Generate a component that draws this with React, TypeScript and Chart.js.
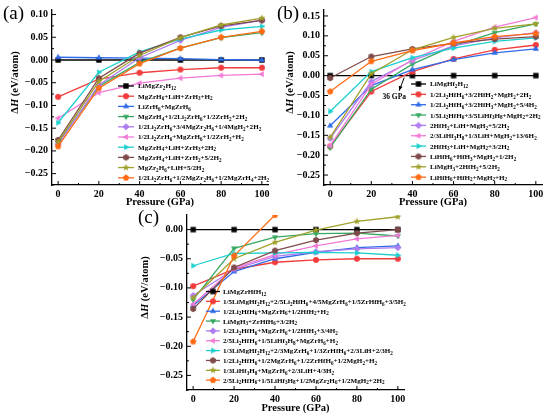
import React, { useEffect, useRef } from "react";
import Chart from "chart.js/auto";

const FONT = '"Liberation Serif", "Times New Roman", serif';

// pressure points (GPa)
const pressures = [0, 20, 40, 60, 80, 100];
const xTicks = [0, 20, 40, 60, 80, 100];
const xMinor = [10, 30, 50, 70, 90];

const yTicksA = [-0.25, -0.2, -0.15, -0.1, -0.05, 0, 0.05, 0.1];
const yTicksB = [-0.25, -0.2, -0.15, -0.1, -0.05, 0, 0.05, 0.1, 0.15];
const yTicksC = [-0.25, -0.2, -0.15, -0.1, -0.05, 0];

// (a) LiMgZr2H12
const labelsA = [
  "LiMgZr2H12",
  "MgZrH6+LiH+ZrH3+H2",
  "LiZrH6+MgZrH6",
  "MgZrH4+1/2Li2ZrH6+1/2ZrH2+2H2",
  "1/2Li2ZrH6+3/4MgZr2H6+1/4MgH2+2H2",
  "1/2Li2ZrH6+MgZrH6+1/2ZrH2+H2",
  "MgZrH4+LiH+ZrH3+2H2",
  "MgZrH4+LiH+ZrH2+5/2H2",
  "MgZr2H6+LiH+5/2H2",
  "1/2Li2ZrH6+1/2MgZr2H6+1/2MgZrH4+2H2",
];
const valuesA = [
  [0, 0, 0, 0, 0, 0],
  [-0.081, -0.042, -0.028, -0.021, -0.017, -0.017],
  [0.006, 0.005, 0.004, 0.003, 0.001, 0.0],
  [-0.183, -0.058, -0.005, 0.026, 0.049, 0.06],
  [-0.185, -0.055, 0.005, 0.043, 0.072, 0.088],
  [-0.128, -0.072, -0.051, -0.04, -0.034, -0.031],
  [-0.138, -0.027, 0.018, 0.046, 0.066, 0.074],
  [-0.176, -0.04, 0.015, 0.05, 0.075, 0.087],
  [-0.18, -0.047, 0.01, 0.049, 0.077, 0.092],
  [-0.19, -0.062, -0.008, 0.026, 0.05, 0.063],
];

// (b) LiMgHf2H12
const labelsB = [
  "LiMgHf2H12",
  "1/2Li2HfH6+3/2HfH2+MgH2+2H2",
  "1/2Li2HfH6+3/2HfH3+MgH2+5/4H2",
  "1/5Li2HfH6+3/5LiHf3H8+MgH2+2H2",
  "2HfH2+LiH+MgH2+5/2H2",
  "2/3LiHf3H8+1/3LiH+MgH2+13/6H2",
  "2HfH3+LiH+MgH2+3/2H2",
  "LiHfH6+HfH3+MgH2+1/2H2",
  "LiMgH3+2HfH2+5/2H2",
  "LiHfH6+HfH2+MgH2+H2",
];
const valuesB = [
  [0, 0, 0, 0, 0, 0],
  [-0.178, -0.04, 0.01, 0.042, 0.065, 0.077],
  [-0.126, -0.025, 0.015, 0.04, 0.057, 0.067],
  [-0.181, -0.034, 0.029, 0.075, 0.108, 0.13],
  [-0.158, -0.015, 0.038, 0.075, 0.095, 0.108],
  [-0.176, -0.022, 0.04, 0.086, 0.122, 0.146],
  [-0.09, 0.01, 0.045, 0.069, 0.086, 0.095],
  [-0.006, 0.048, 0.067, 0.081, 0.092, 0.098],
  [-0.155, 0.005, 0.065, 0.096, 0.119, 0.13],
  [-0.04, 0.036, 0.063, 0.082, 0.098, 0.106],
];

// (c) LiMgZrHfH12
const labelsC = [
  "LiMgZrHfH12",
  "1/5LiMgHf2H12+2/5Li2HfH6+4/5MgZrH6+1/5ZrHfH6+3/5H2",
  "1/2Li2HfH6+MgZrH6+1/2HfH2+H2",
  "LiMgH3+ZrHfH6+3/2H2",
  "1/2Li2HfH6+MgZrH6+1/2HfH3+3/4H2",
  "2/5Li2HfH6+1/5LiHf3H8+MgZrH6+H2",
  "1/3LiMgHf2H12+2/3MgZrH6+1/3ZrHfH6+2/3LiH+2/3H2",
  "1/2Li2HfH6+1/2MgZrH6+1/2ZrHfH6+1/2MgH2+H2",
  "1/3LiHf3H8+MgZrH6+2/3LiH+4/3H2",
  "2/5Li2HfH6+1/5LiHf3H8+1/2MgZr2H6+1/2MgH2+2H2",
];
const valuesC = [
  [0, 0, 0, 0, 0, 0],
  [-0.097, -0.068, -0.056, -0.052, -0.05, -0.05],
  [-0.13, -0.072, -0.05, -0.039, -0.031, -0.028],
  [-0.12, -0.032, -0.013, -0.007, -0.006, -0.011],
  [-0.113, -0.068, -0.046, -0.038, -0.033, -0.031],
  [-0.128, -0.066, -0.043, -0.028, -0.016, -0.01],
  [-0.062, -0.041, -0.04, -0.039, -0.04, -0.044],
  [-0.136, -0.065, -0.036, -0.018, -0.006, 0.0],
  [-0.117, -0.05, -0.022, -0.001, 0.014, 0.022],
  [-0.192, -0.045, 0.025, null, null, null],
];

const colors = [
  "#000000", "#f23b3b", "#2f6be8", "#36a862", "#ad7cf0",
  "#f27ad6", "#1ccfcf", "#7f4a4a", "#a0a02a", "#ff6a12",
];
const shapes = [
  "square", "circle", "up", "down", "diamond",
  "left", "right", "hexagon", "star", "pentagon",
];

function makeMarker(shape: string, color: string): HTMLCanvasElement {
  const s = 8;
  const c = document.createElement("canvas");
  c.width = s;
  c.height = s;
  const g = c.getContext("2d")!;
  g.fillStyle = color;
  g.translate(s / 2, s / 2);
  const poly = (n: number, r: number, rot: number) => {
    g.beginPath();
    for (let i = 0; i < n; i++) {
      const a = -Math.PI / 2 + rot + (i * 2 * Math.PI) / n;
      g.lineTo(r * Math.cos(a), r * Math.sin(a));
    }
    g.closePath();
    g.fill();
  };
  if (shape === "square") g.fillRect(-2.7, -2.7, 5.4, 5.4);
  else if (shape === "circle") {
    g.beginPath();
    g.arc(0, 0, 3, 0, Math.PI * 2);
    g.fill();
  } else if (shape === "up") poly(3, 3.6, 0);
  else if (shape === "down") poly(3, 3.6, Math.PI);
  else if (shape === "left") poly(3, 3.6, -Math.PI / 2);
  else if (shape === "right") poly(3, 3.6, Math.PI / 2);
  else if (shape === "diamond") poly(4, 3.6, 0);
  else if (shape === "hexagon") poly(6, 3.3, 0);
  else if (shape === "pentagon") poly(5, 3.4, 0);
  else if (shape === "star") {
    g.beginPath();
    for (let i = 0; i < 10; i++) {
      const a = -Math.PI / 2 + (i * Math.PI) / 5;
      const r = i % 2 ? 1.6 : 3.8;
      g.lineTo(r * Math.cos(a), r * Math.sin(a));
    }
    g.closePath();
    g.fill();
  }
  return c;
}

// split a formula into normal / subscript runs
function chemParts(text: string) {
  const parts: { t: string; sub: boolean }[] = [];
  let prevSub = false;
  for (let i = 0; i < text.length; i++) {
    const ch = text[i];
    const prev = text[i - 1] || "";
    const digit = /[0-9]/.test(ch);
    const sub = digit && (/[A-Za-z]/.test(prev) || (prevSub && /[0-9]/.test(prev)));
    const last = parts[parts.length - 1];
    if (last && last.sub === sub) last.t += ch;
    else parts.push({ t: ch, sub });
    prevSub = sub;
  }
  return parts;
}

function drawChem(ctx: CanvasRenderingContext2D, text: string, x: number, y: number, size: number) {
  let cx = x;
  const base = y + size * 0.35;
  for (const p of chemParts(text)) {
    ctx.font = p.sub ? `bold ${size * 0.72}px ${FONT}` : `bold ${size}px ${FONT}`;
    ctx.fillText(p.t, cx, p.sub ? base + size * 0.25 : base);
    cx += ctx.measureText(p.t).width;
  }
}

const fmt = (v: number) => {
  const s = Math.abs(v) < 1e-9 ? "0.00" : Math.abs(v).toFixed(2);
  return v < -1e-9 ? "\u2212" + s : s;
};

interface PanelProps {
  tag: string;
  labels: string[];
  values: (number | null)[][];
  yMin: number;
  yMax: number;
  yTicks: number[];
  box: { left: number; top: number; width: number; height: number };
  yw: number;
  pr: number;
  pt: number;
  xh: number;
  legend: { x0: number; x1: number; tx: number; y0: number; dy: number; size: number };
  tagPos: { x: number; y: number };
  note?: { x: number; y: number; text: string };
}

const Panel: React.FC<PanelProps> = (p) => {
  const canvasRef = useRef<HTMLCanvasElement | null>(null);

  useEffect(() => {
    if (!canvasRef.current) return;
    const markers = shapes.map((s, i) => makeMarker(s, colors[i]));

    const decor = {
      id: "decor",
      afterDraw(chart: Chart) {
        const ctx = chart.ctx;
        const { left, top, bottom } = chart.chartArea;
        const xs = chart.scales.x;
        const ys = chart.scales.y;
        ctx.save();
        ctx.strokeStyle = "#000";
        ctx.lineWidth = 1;
        // inward ticks
        ctx.beginPath();
        xTicks.forEach((v) => {
          const px = xs.getPixelForValue(v);
          ctx.moveTo(px, bottom);
          ctx.lineTo(px, bottom - 4);
        });
        xMinor.forEach((v) => {
          const px = xs.getPixelForValue(v);
          ctx.moveTo(px, bottom);
          ctx.lineTo(px, bottom - 2);
        });
        p.yTicks.forEach((v) => {
          const py = ys.getPixelForValue(v);
          ctx.moveTo(left, py);
          ctx.lineTo(left + 4, py);
          const m = v + 0.025;
          if (m < p.yMax) {
            const pm = ys.getPixelForValue(m);
            ctx.moveTo(left, pm);
            ctx.lineTo(left + 2, pm);
          }
        });
        const pl = ys.getPixelForValue(p.yTicks[0] - 0.025);
        ctx.moveTo(left, pl);
        ctx.lineTo(left + 2, pl);
        ctx.stroke();

        // legend inside the plot
        const lg = p.legend;
        p.labels.forEach((lab, i) => {
          const yy = lg.y0 + i * lg.dy;
          ctx.strokeStyle = colors[i];
          ctx.lineWidth = 1.3;
          ctx.beginPath();
          ctx.moveTo(lg.x0, yy);
          ctx.lineTo(lg.x1, yy);
          ctx.stroke();
          ctx.drawImage(markers[i], (lg.x0 + lg.x1) / 2 - 4, yy - 4);
          ctx.fillStyle = "#000";
          drawChem(ctx, lab, lg.tx, yy, lg.size);
        });

        // y axis title with italic H
        ctx.save();
        ctx.translate(15, (top + bottom) / 2 - 15);
        ctx.rotate(-Math.PI / 2);
        const segs: [string, string][] = [
          ["\u0394", `bold 10.5px ${FONT}`],
          ["H", `italic bold 10.5px ${FONT}`],
          [" (eV/atom)", `bold 10.5px ${FONT}`],
        ];
        let total = 0;
        segs.forEach(([t, f]) => {
          ctx.font = f;
          total += ctx.measureText(t).width;
        });
        let cx = -total / 2;
        ctx.textBaseline = "middle";
        ctx.fillStyle = "#000";
        segs.forEach(([t, f]) => {
          ctx.font = f;
          ctx.fillText(t, cx, 0);
          cx += ctx.measureText(t).width;
        });
        ctx.restore();

        // panel tag
        ctx.font = `19px ${FONT}`;
        ctx.textBaseline = "top";
        ctx.fillStyle = "#000";
        ctx.fillText(p.tag, p.tagPos.x, p.tagPos.y);

        // annotation arrow
        if (p.note) {
          const ax = xs.getPixelForValue(p.note.x);
          const ay = ys.getPixelForValue(p.note.y);
          const ex = ax - 5;
          const ey = ay + 15;
          ctx.strokeStyle = "#000";
          ctx.lineWidth = 1;
          ctx.beginPath();
          ctx.moveTo(ax, ay + 2);
          ctx.lineTo(ex, ey);
          ctx.stroke();
          const ang = Math.atan2(ey - ay, ex - ax);
          ctx.beginPath();
          ctx.moveTo(ex, ey);
          ctx.lineTo(ex - 5 * Math.cos(ang - 0.4), ey - 5 * Math.sin(ang - 0.4));
          ctx.lineTo(ex - 5 * Math.cos(ang + 0.4), ey - 5 * Math.sin(ang + 0.4));
          ctx.closePath();
          ctx.fill();
          ctx.font = `bold 7.5px ${FONT}`;
          ctx.textAlign = "center";
          ctx.textBaseline = "middle";
          ctx.fillText(p.note.text, ax - 10, ay + 21);
        }
        ctx.restore();
      },
    };

    const tickFont = { family: FONT, size: 10, weight: "bold" as const };
    const chart = new Chart(canvasRef.current, {
      type: "line",
      data: {
        datasets: p.labels.map((lab, i) => ({
          label: lab,
          data: pressures.map((x, j) => ({ x, y: p.values[i][j] })),
          borderColor: colors[i],
          backgroundColor: colors[i],
          borderWidth: 1.3,
          pointStyle: markers[i],
          pointRadius: 3,
          tension: 0,
          spanGaps: false,
          order: -i,
        })),
      },
      options: {
        responsive: false,
        animation: false,
        layout: { padding: { left: 0, right: p.pr, top: p.pt, bottom: 0 } },
        plugins: { legend: { display: false }, tooltip: { enabled: false } },
        scales: {
          x: {
            type: "linear",
            min: -3,
            max: 103,
            grid: { display: false, drawTicks: false },
            border: { display: true, color: "#000", width: 1.3 },
            ticks: { font: tickFont, color: "#000", padding: 3, maxRotation: 0 },
            afterBuildTicks: (s: any) => {
              s.ticks = xTicks.map((v) => ({ value: v }));
            },
            afterFit: (s: any) => {
              s.height = p.xh;
            },
            title: {
              display: true,
              text: "Pressure (GPa)",
              color: "#000",
              font: { family: FONT, size: 10.5, weight: "bold" },
              padding: { top: 0, bottom: 1 },
            },
          },
          y: {
            type: "linear",
            min: p.yMin,
            max: p.yMax,
            grid: { display: false, drawTicks: false },
            border: { display: true, color: "#000", width: 1.3 },
            ticks: {
              font: tickFont,
              color: "#000",
              padding: 4,
              callback: (v: any) => fmt(Number(v)),
            },
            afterBuildTicks: (s: any) => {
              s.ticks = p.yTicks.map((v) => ({ value: v }));
            },
            afterFit: (s: any) => {
              s.width = p.yw;
            },
          },
        },
      },
      plugins: [decor],
    });

    return () => {
      chart.destroy();
    };
  }, [p]);

  return (
    <div
      style={{
        position: "absolute",
        left: p.box.left,
        top: p.box.top,
        width: p.box.width,
        height: p.box.height,
      }}
    >
      <canvas ref={canvasRef} width={p.box.width} height={p.box.height} />
    </div>
  );
};

const panelA: PanelProps = {
  tag: "(a)",
  labels: labelsA,
  values: valuesA,
  yMin: -0.275,
  yMax: 0.11,
  yTicks: yTicksA,
  box: { left: 0, top: 0, width: 275, height: 210 },
  yw: 52,
  pr: 7,
  pt: 5,
  xh: 25,
  legend: { x0: 118, x1: 134, tx: 138, y0: 86, dy: 10.2, size: 7.1 },
  tagPos: { x: 3, y: 5 },
};

const panelB: PanelProps = {
  tag: "(b)",
  labels: labelsB,
  values: valuesB,
  yMin: -0.275,
  yMax: 0.165,
  yTicks: yTicksB,
  box: { left: 275, top: 0, width: 275, height: 210 },
  yw: 49,
  pr: 8,
  pt: 3,
  xh: 25,
  legend: { x0: 136, x1: 151, tx: 155, y0: 84, dy: 10.35, size: 7.1 },
  tagPos: { x: 2, y: 5 },
  note: { x: 36, y: 0, text: "36 GPa" },
};

const panelC: PanelProps = {
  tag: "(c)",
  labels: labelsC,
  values: valuesC,
  yMin: -0.275,
  yMax: 0.025,
  yTicks: yTicksC,
  box: { left: 130, top: 205, width: 290, height: 211 },
  yw: 57,
  pr: 16,
  pt: 9,
  xh: 26,
  legend: { x0: 76, x1: 90, tx: 93, y0: 86.5, dy: 9.85, size: 7.1 },
  tagPos: { x: 8, y: 4 },
};

export default function App() {
  return (
    <div
      style={{
        position: "absolute",
        left: 0,
        top: 0,
        width: 550,
        height: 416,
        background: "#fff",
        overflow: "hidden",
      }}
    >
      <Panel {...panelA} />
      <Panel {...panelB} />
      <Panel {...panelC} />
    </div>
  );
}
